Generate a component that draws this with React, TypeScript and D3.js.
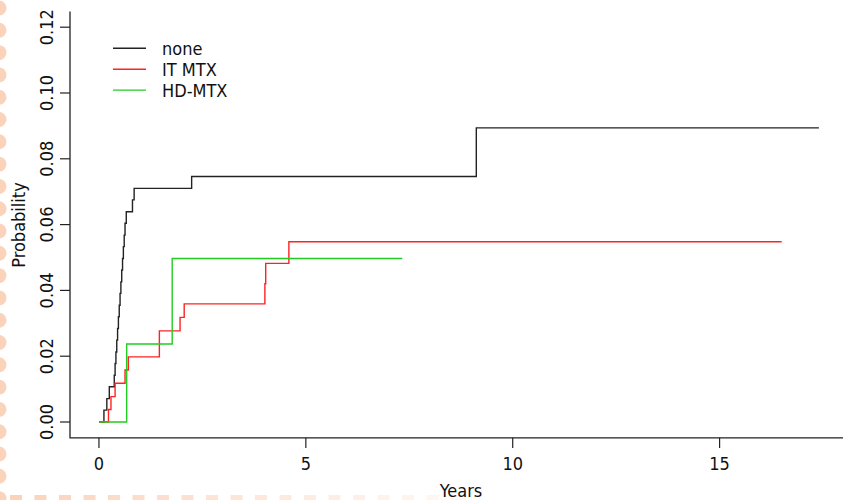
import React, { useRef, useEffect } from 'react'
import * as d3 from 'd3'

// cumulative incidence, step times (years) and values
const noneTimes = [0, 0.12, 0.19, 0.25, 0.37, 0.39, 0.41, 0.43, 0.45, 0.47, 0.49, 0.51, 0.53, 0.55, 0.57, 0.59, 0.61, 0.63, 0.66, 0.81, 0.85, 2.24, 9.12, 17.4]
const noneProb = [0, 0.0036, 0.0071, 0.0107, 0.0142, 0.0178, 0.0213, 0.0249, 0.0284, 0.0320, 0.0355, 0.0391, 0.0426, 0.0462, 0.0497, 0.0533, 0.0568, 0.0604, 0.0639, 0.0675, 0.0710, 0.0746, 0.0894, 0.0894]

const itTimes = [0, 0.23, 0.29, 0.39, 0.63, 0.71, 1.46, 1.96, 2.06, 4.01, 4.03, 4.59, 16.5]
const itProb = [0, 0.0038, 0.0077, 0.0118, 0.0158, 0.0198, 0.0277, 0.0318, 0.0359, 0.0420, 0.0482, 0.0548, 0.0548]

const hdTimes = [0, 0.67, 1.77, 7.33]
const hdProb = [0, 0.0237, 0.0497, 0.0497]

const seriesNames = ['none', 'IT MTX', 'HD-MTX']
const seriesColors = ['#222222', '#ff2222', '#22cc22']

const xTicks = [0, 5, 10, 15]
const yTicks = [0, 0.02, 0.04, 0.06, 0.08, 0.1, 0.12]

const W = 843, H = 500
const font = "'DejaVu Sans Condensed', 'DejaVu Sans', sans-serif"

const App = () => {
  const ref = useRef<SVGSVGElement>(null)

  useEffect(() => {
    const svg = d3.select(ref.current)
    svg.selectAll('*').remove()

    // R style: data range + 4% each side
    const x = d3.scaleLinear().domain([-0.7, 18.2]).range([70, 852])
    const y = d3.scaleLinear().domain([-0.0048, 0.1248]).range([437.8, 11.4])

    svg.append('rect').attr('width', W).attr('height', H).attr('fill', 'white')

    // torn paper edge decoration
    const deco = svg.append('g').attr('fill', '#fbd3bb')
    deco.selectAll('circle').data(d3.range(0, 500, 22.3)).enter().append('circle')
      .attr('cx', -1).attr('cy', d => d + 8).attr('r', 7.5)
    deco.selectAll('rect.dash').data(d3.range(0, 460, 24.5)).enter().append('rect')
      .attr('class', 'dash')
      .attr('x', d => d + 10).attr('y', 495).attr('width', 12).attr('height', 6)
      .attr('opacity', d => Math.max(0.15, 1 - d / 520))

    const series = [
      { t: noneTimes, p: noneProb },
      { t: itTimes, p: itProb },
      { t: hdTimes, p: hdProb },
    ]
    const line = d3.line<[number, number]>()
      .x(d => x(d[0])).y(d => y(d[1]))
      .curve(d3.curveStepAfter)

    series.forEach((s, i) => {
      const pts: [number, number][] = s.t.map((t, j) => [t, s.p[j]])
      svg.append('path')
        .attr('d', line(pts))
        .attr('fill', 'none')
        .attr('stroke', seriesColors[i])
        .attr('stroke-width', 1.4)
    })

    // box (bty = "l")
    svg.append('path')
      .attr('d', `M${x(-0.7)},${y(0.1248)}V${y(-0.0048)}H${x(18.2)}`)
      .attr('fill', 'none').attr('stroke', '#222').attr('stroke-width', 1.3)

    const xa = svg.append('g').attr('font-family', font).attr('font-size', 18).attr('fill', '#111')
    xTicks.forEach(t => {
      xa.append('line').attr('x1', x(t)).attr('x2', x(t)).attr('y1', 437.8).attr('y2', 448)
        .attr('stroke', '#222').attr('stroke-width', 1.2)
      xa.append('text').attr('x', x(t)).attr('y', 470).attr('text-anchor', 'middle').text(t)
    })
    xa.append('text').attr('x', 461).attr('y', 497).attr('text-anchor', 'middle').text('Years')

    const ya = svg.append('g').attr('font-family', font).attr('font-size', 18).attr('fill', '#111')
    yTicks.forEach(t => {
      ya.append('line').attr('x1', 60).attr('x2', 70).attr('y1', y(t)).attr('y2', y(t))
        .attr('stroke', '#222').attr('stroke-width', 1.2)
      ya.append('text').attr('transform', `translate(53,${y(t)}) rotate(-90)`)
        .attr('text-anchor', 'middle').text(d3.format('.2f')(t))
    })
    ya.append('text').attr('transform', `translate(25,225) rotate(-90)`)
      .attr('text-anchor', 'middle').text('Probability')

    // legend
    const lg = svg.append('g').attr('font-family', font).attr('font-size', 18).attr('fill', '#111')
    seriesNames.forEach((n, i) => {
      const ly = 48.3 + i * 20.9
      lg.append('line').attr('x1', 113).attr('x2', 146).attr('y1', ly).attr('y2', ly)
        .attr('stroke', seriesColors[i]).attr('stroke-width', 1.4)
      lg.append('text').attr('x', 162).attr('y', ly + 6.5).text(n)
    })
  }, [])

  return (
    <svg ref={ref} width={W} height={H} style={{ position: 'absolute', left: 0, top: 0, fontStretch: 'condensed' }} />
  )
}

export default App
